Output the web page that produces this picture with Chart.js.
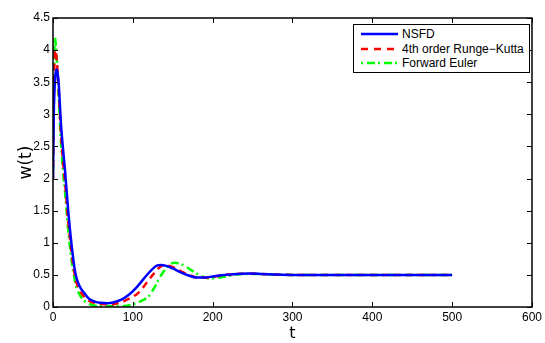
<!DOCTYPE html>
<html>
<head>
<meta charset="utf-8">
<script src="https://cdn.jsdelivr.net/npm/chart.js@4/dist/chart.umd.min.js"></script>
<style>
  html, body { margin: 0; padding: 0; background: #fff; }
  #wrap { position: relative; width: 545px; height: 343px; }
  #legend {
    position: absolute; left: 353px; top: 24px; width: 177px; height: 49px;
    background: #fff; border: 1px solid #000; box-sizing: border-box;
    font-family: "Liberation Sans", Arial, sans-serif; font-size: 12px; color: #000;
  }
  .row { position: absolute; left: 0; height: 14px; line-height: 14px; }
  .row svg { position: absolute; left: 7px; top: 2px; }
  .row span { position: absolute; left: 48px; white-space: nowrap; }
</style>
</head>
<body>
<div id="wrap">
  <canvas id="c" width="545" height="343"></canvas>
  <div id="legend">
    <div class="row" style="top:2px">
      <svg width="38" height="10"><line x1="0" y1="5" x2="37" y2="5" stroke="#0000ff" stroke-width="2.5"/></svg>
      <span>NSFD</span>
    </div>
    <div class="row" style="top:16.5px">
      <svg width="38" height="10"><line x1="0" y1="5" x2="37" y2="5" stroke="#ff0000" stroke-width="2.5" stroke-dasharray="7,6"/></svg>
      <span>4th order Runge&#8722;Kutta</span>
    </div>
    <div class="row" style="top:31px">
      <svg width="38" height="10"><line x1="0" y1="5" x2="37" y2="5" stroke="#00ff00" stroke-width="2.5" stroke-dasharray="2,4,8,3"/></svg>
      <span>Forward Euler</span>
    </div>
  </div>
</div>
<script>
// ---- data ----
const nsfdT = [0, 1, 3, 5, 7, 10, 13, 15, 19, 23, 28, 33, 39, 45, 53, 60, 68, 75, 85, 95, 105, 115, 122, 130, 135, 142, 150, 160, 170, 180, 190, 200, 215, 230, 245, 260, 280, 300, 350, 400, 450, 500];
const nsfdW = [2.0, 3.0, 3.6, 3.7, 3.5, 2.85, 2.4, 2.13, 1.51, 1.0, 0.53, 0.33, 0.22, 0.13, 0.08, 0.065, 0.06, 0.07, 0.11, 0.19, 0.31, 0.46, 0.56, 0.645, 0.655, 0.64, 0.6, 0.54, 0.49, 0.46, 0.46, 0.475, 0.5, 0.515, 0.52, 0.515, 0.505, 0.5, 0.5, 0.5, 0.5, 0.5];

const rkT = [0, 1, 2, 3, 5, 7, 10, 13, 15, 19, 23, 28, 33, 39, 45, 53, 62, 72, 82, 92, 100, 107, 115, 125, 133, 140, 148, 158, 170, 180, 190, 200, 215, 230, 245, 260, 280, 300, 350, 400, 450, 500];
const rkW = [2.0, 3.2, 3.9, 4.0, 3.8, 3.4, 2.7, 2.2, 1.95, 1.35, 0.88, 0.45, 0.27, 0.16, 0.1, 0.06, 0.045, 0.04, 0.06, 0.11, 0.16, 0.22, 0.34, 0.5, 0.61, 0.655, 0.63, 0.57, 0.5, 0.46, 0.455, 0.47, 0.5, 0.515, 0.52, 0.515, 0.505, 0.5, 0.5, 0.5, 0.5, 0.5];

const eulerT = [0, 1, 2, 3, 5, 7, 10, 13, 15, 19, 23, 28, 33, 39, 45, 53, 62, 72, 82, 92, 100, 110, 120, 127, 132, 140, 146, 152, 160, 170, 180, 190, 198, 210, 225, 240, 255, 270, 300, 350, 400, 450, 500];
const eulerW = [2.0, 3.5, 4.2, 4.15, 3.8, 3.3, 2.55, 2.05, 1.8, 1.2, 0.75, 0.38, 0.2, 0.1, 0.05, 0.02, 0.01, 0.01, 0.015, 0.02, 0.04, 0.09, 0.17, 0.3, 0.42, 0.58, 0.66, 0.69, 0.67, 0.6, 0.52, 0.46, 0.445, 0.46, 0.495, 0.515, 0.515, 0.505, 0.5, 0.5, 0.5, 0.5, 0.5];

const xTickValues = [0, 100, 200, 300, 400, 500, 600];
const yTickValues = [0, 0.5, 1, 1.5, 2, 2.5, 3, 3.5, 4, 4.5];

const seriesNames = ["NSFD", "4th order Runge\u2212Kutta", "Forward Euler"];

function pts(ts, ws) { return ts.map((t, i) => ({ x: t, y: ws[i] })); }

const FONT = "'Liberation Sans', Arial, sans-serif";
const TITLE_FONT = "'DejaVu Sans', sans-serif";

// inward tick marks and full box, MATLAB style
const boxTicks = {
  id: 'boxTicks',
  afterDraw(chart) {
    const { ctx, chartArea: a, scales } = chart;
    ctx.save();
    ctx.strokeStyle = '#000';
    ctx.lineWidth = 1;
    const L = 5;
    ctx.beginPath();
    scales.x.ticks.forEach(tk => {
      const px = Math.round(scales.x.getPixelForValue(tk.value)) + 0.5;
      ctx.moveTo(px, a.bottom); ctx.lineTo(px, a.bottom - L);
      ctx.moveTo(px, a.top); ctx.lineTo(px, a.top + L);
    });
    scales.y.ticks.forEach(tk => {
      const py = Math.round(scales.y.getPixelForValue(tk.value)) + 0.5;
      ctx.moveTo(a.left, py); ctx.lineTo(a.left + L, py);
      ctx.moveTo(a.right, py); ctx.lineTo(a.right - L, py);
    });
    ctx.stroke();
    ctx.lineWidth = 1.5;
    ctx.strokeRect(a.left, a.top, a.right - a.left, a.bottom - a.top);
    ctx.restore();
  }
};

new Chart(document.getElementById('c'), {
  type: 'line',
  data: {
    datasets: [
      { label: seriesNames[0], data: pts(nsfdT, nsfdW), borderColor: '#0000ff', borderWidth: 2.5, pointRadius: 0, cubicInterpolationMode: 'monotone', order: 1 },
      { label: seriesNames[1], data: pts(rkT, rkW), borderColor: '#ff0000', borderWidth: 2.5, borderDash: [7, 5], pointRadius: 0, cubicInterpolationMode: 'monotone', order: 2 },
      { label: seriesNames[2], data: pts(eulerT, eulerW), borderColor: '#00ff00', borderWidth: 2.5, borderDash: [2, 4, 8, 3], pointRadius: 0, cubicInterpolationMode: 'monotone', order: 3 }
    ]
  },
  options: {
    responsive: false,
    animation: false,
    layout: { padding: { top: 18, right: 9, left: 0, bottom: 0 } },
    plugins: { legend: { display: false }, tooltip: { enabled: false } },
    scales: {
      x: {
        type: 'linear', min: 0, max: 600,
        afterBuildTicks: s => { s.ticks = xTickValues.map(v => ({ value: v })); },
        afterFit: s => { s.height = 36; },
        grid: { display: false, drawTicks: false },
        border: { display: false },
        ticks: { color: '#000', font: { family: FONT, size: 12 }, padding: 3, maxRotation: 0, callback: v => String(v) },
        title: { display: true, text: 't', color: '#000', font: { family: TITLE_FONT, size: 16 }, padding: { top: 0, bottom: 0 } }
      },
      y: {
        type: 'linear', min: 0, max: 4.5,
        afterBuildTicks: s => { s.ticks = yTickValues.map(v => ({ value: v })); },
        afterFit: s => { s.width = 53; },
        grid: { display: false, drawTicks: false },
        border: { display: false },
        ticks: { color: '#000', font: { family: FONT, size: 12 }, padding: 3, callback: v => String(v) },
        title: { display: true, text: 'w(t)', color: '#000', font: { family: TITLE_FONT, size: 17 }, padding: { top: 16, bottom: 0 } }
      }
    }
  },
  plugins: [boxTicks]
});
</script>
</body>
</html>
